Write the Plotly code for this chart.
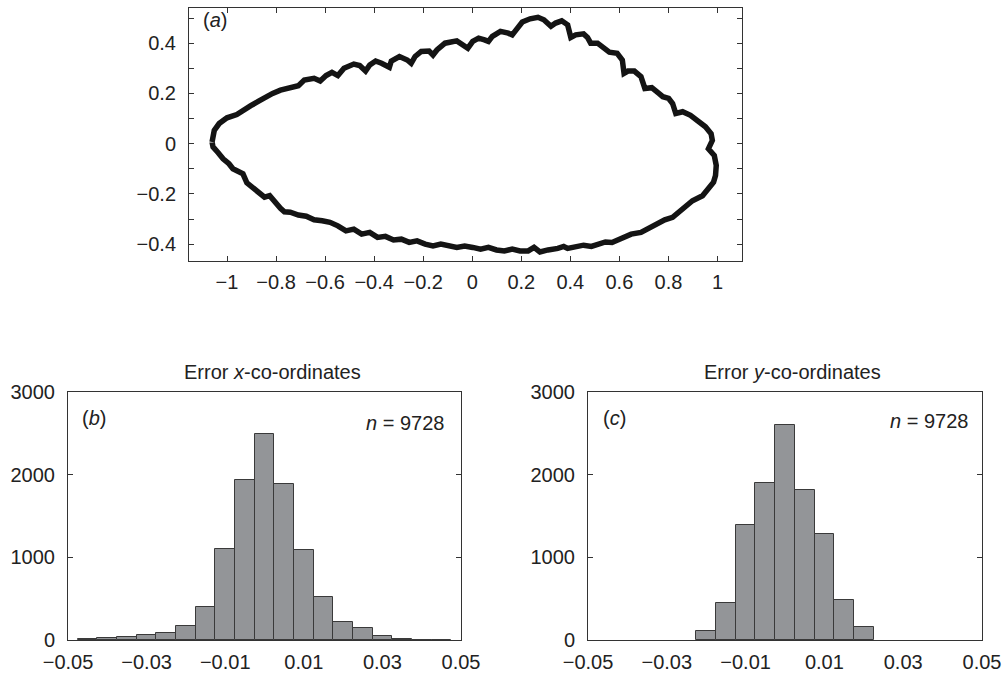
import plotly.graph_objects as go

W, H = 1002, 674

# ---------------- data ----------------
contour_x = [-1.061,-1.052,-1.032,-1.0,-0.96,-0.935,-0.903,-0.871,-0.847,-0.814,
             -0.782,-0.742,-0.709,-0.685,-0.645,-0.62,-0.596,-0.572,-0.548,-0.523,
             -0.483,-0.459,-0.435,-0.418,-0.394,-0.37,-0.338,-0.33,-0.297,-0.265,
             -0.249,-0.233,-0.208,-0.176,-0.16,-0.144,-0.111,-0.063,-0.034,-0.018,
             0.002,0.026,0.05,0.066,0.082,0.115,0.147,0.163,0.179,0.204,
             0.236,0.268,0.292,0.321,0.34,0.365,0.389,0.402,0.422,0.454,
             0.47,0.483,0.511,0.535,0.559,0.591,0.612,0.619,0.635,0.661,
             0.688,0.704,0.732,0.761,0.777,0.801,0.817,0.83,0.858,0.89,
             0.922,0.951,0.974,0.979,0.963,0.987,0.995,0.992,0.984,0.963,
             0.939,0.898,0.874,0.845,0.817,0.785,0.761,0.745,0.72,0.688,
             0.648,0.624,0.599,0.57,0.543,0.519,0.486,0.454,0.422,0.389,
             0.373,0.349,0.309,0.276,0.252,0.228,0.195,0.163,0.131,0.099,
             0.066,0.034,0.002,-0.031,-0.063,-0.095,-0.128,-0.16,-0.192,-0.225,
             -0.257,-0.289,-0.321,-0.354,-0.386,-0.418,-0.451,-0.483,-0.515,-0.548,
             -0.58,-0.612,-0.645,-0.677,-0.709,-0.742,-0.766,-0.782,-0.806,-0.826,
             -0.847,-0.871,-0.895,-0.919,-0.935,-0.952,-0.976,-0.992,-1.016,-1.036,
             -1.057,-1.061]
contour_y = [0.007,0.053,0.08,0.103,0.116,0.133,0.151,0.169,0.183,0.2,
             0.213,0.223,0.231,0.253,0.26,0.249,0.271,0.284,0.271,0.3,
             0.317,0.311,0.289,0.313,0.329,0.32,0.304,0.329,0.347,0.333,
             0.32,0.347,0.367,0.369,0.353,0.373,0.4,0.409,0.393,0.38,
             0.407,0.42,0.413,0.407,0.427,0.447,0.44,0.433,0.453,0.484,
             0.497,0.503,0.493,0.467,0.48,0.489,0.473,0.423,0.433,0.437,
             0.423,0.4,0.4,0.383,0.364,0.36,0.333,0.28,0.289,0.289,
             0.267,0.22,0.223,0.2,0.187,0.18,0.16,0.12,0.127,0.113,
             0.089,0.067,0.04,0.013,-0.02,-0.047,-0.087,-0.127,-0.153,-0.18,
             -0.207,-0.227,-0.247,-0.271,-0.293,-0.303,-0.316,-0.327,-0.34,-0.353,
             -0.36,-0.369,-0.38,-0.393,-0.391,-0.4,-0.409,-0.404,-0.413,-0.417,
             -0.409,-0.417,-0.423,-0.431,-0.413,-0.427,-0.427,-0.42,-0.427,-0.423,
             -0.413,-0.42,-0.413,-0.407,-0.413,-0.407,-0.4,-0.407,-0.4,-0.387,
             -0.393,-0.38,-0.383,-0.369,-0.373,-0.353,-0.36,-0.34,-0.347,-0.327,
             -0.313,-0.307,-0.303,-0.289,-0.284,-0.273,-0.271,-0.257,-0.233,-0.207,
             -0.213,-0.193,-0.173,-0.156,-0.12,-0.111,-0.1,-0.08,-0.06,-0.036,
             -0.013,0.007]

errx_centers = [-0.045,-0.04,-0.035,-0.03,-0.025,-0.02,-0.015,-0.01,-0.005,0.0,
                0.005,0.01,0.015,0.02,0.025,0.03,0.035,0.04,0.045]
errx_counts = [10,30,35,60,90,165,400,1100,1940,2490,1890,1085,520,220,145,45,8,5,2]

erry_centers = [-0.02,-0.015,-0.01,-0.005,0.0,0.005,0.01,0.015,0.02]
erry_counts = [110,450,1390,1900,2600,1810,1280,480,160]

a_xticks = [-1,-0.8,-0.6,-0.4,-0.2,0,0.2,0.4,0.6,0.8,1]
a_xticktext = ["\u22121","\u22120.8","\u22120.6","\u22120.4","\u22120.2","0","0.2","0.4","0.6","0.8","1"]
a_yticks = [-0.4,-0.3,-0.2,-0.1,0,0.1,0.2,0.3,0.4,0.5]
a_yticktext = ["\u22120.4","","\u22120.2","","0","","0.2","","0.4",""]
h_xticks = [-0.05,-0.03,-0.01,0.01,0.03,0.05]
h_xticktext = ["\u22120.05","\u22120.03","\u22120.01","0.01","0.03","0.05"]
h_yticks = [0,1000,2000,3000]
h_yticktext = ["0","1000","2000","3000"]
n_label = "<i>n</i> = 9728"

# ---------------- figure ----------------
def fx(p): return p / W
def fy(p): return 1 - p / H

FONT = "Liberation Sans, Arial, Helvetica, sans-serif"
AX = "#333333"
TF = dict(family=FONT, size=20, color="#222222")

fig = go.Figure()
fig.add_trace(go.Scatter(x=contour_x + [contour_x[0]], y=contour_y + [contour_y[0]],
                         mode="lines", line=dict(color="#141414", width=5.5),
                         xaxis="x", yaxis="y", showlegend=False, hoverinfo="skip"))
fig.add_trace(go.Bar(x=errx_centers, y=errx_counts, width=0.005,
                     marker=dict(color="#939598", line=dict(color="#3a3a3a", width=1)),
                     xaxis="x2", yaxis="y2", showlegend=False))
fig.add_trace(go.Bar(x=erry_centers, y=erry_counts, width=0.005,
                     marker=dict(color="#939598", line=dict(color="#3a3a3a", width=1)),
                     xaxis="x3", yaxis="y3", showlegend=False))

common = dict(showline=True, linecolor=AX, linewidth=1, mirror="ticks",
              showgrid=False, zeroline=False, tickfont=TF, automargin=False,
              ticks="inside", ticklen=5, tickcolor=AX, tickwidth=1)

fig.update_layout(
    width=W, height=H, margin=dict(l=0, r=0, t=0, b=0),
    paper_bgcolor="white", plot_bgcolor="white", bargap=0,
    xaxis=dict(domain=[fx(189), fx(742)], range=[-1.155, 1.1], anchor="y",
               tickvals=a_xticks, ticktext=a_xticktext, ticklabelstandoff=3, **common),
    yaxis=dict(domain=[fy(261), fy(7.5)], range=[-0.467, 0.542], anchor="x",
               tickvals=a_yticks, ticktext=a_yticktext, ticklabelstandoff=8, **common),
    xaxis2=dict(domain=[fx(68), fx(461)], range=[-0.05, 0.05], anchor="y2",
                tickvals=h_xticks, ticktext=h_xticktext, ticklabelstandoff=4,
                **{**common, "ticks": "", "mirror": True}),
    yaxis2=dict(domain=[fy(640), fy(392)], range=[0, 3000], anchor="x2",
                tickvals=h_yticks, ticktext=h_yticktext, ticklabelstandoff=8, **common),
    xaxis3=dict(domain=[fx(588), fx(982)], range=[-0.05, 0.05], anchor="y3",
                tickvals=h_xticks, ticktext=h_xticktext, ticklabelstandoff=4,
                **{**common, "ticks": "", "mirror": True}),
    yaxis3=dict(domain=[fy(640), fy(392)], range=[0, 3000], anchor="x3",
                tickvals=h_yticks, ticktext=h_yticktext, ticklabelstandoff=8, **common),
)

ann = [
    dict(text="(<i>a</i>)", x=fx(201), y=fy(20), xanchor="left", yanchor="middle"),
    dict(text="Error <i>x</i>-co-ordinates", x=fx(272), y=fy(372), xanchor="center", yanchor="middle"),
    dict(text="Error <i>y</i>-co-ordinates", x=fx(792), y=fy(372), xanchor="center", yanchor="middle"),
    dict(text="(<i>b</i>)", x=fx(80), y=fy(418), xanchor="left", yanchor="middle"),
    dict(text="(<i>c</i>)", x=fx(601), y=fy(418), xanchor="left", yanchor="middle"),
    dict(text=n_label, x=fx(446), y=fy(423), xanchor="right", yanchor="middle"),
    dict(text=n_label, x=fx(970), y=fy(421), xanchor="right", yanchor="middle"),
]
for a in ann:
    fig.add_annotation(xref="paper", yref="paper", showarrow=False, font=TF, **a)

fig.write_html("out.html", config={"displayModeBar": False},
               post_script="document.body.style.margin='0';document.body.style.padding='0';")
